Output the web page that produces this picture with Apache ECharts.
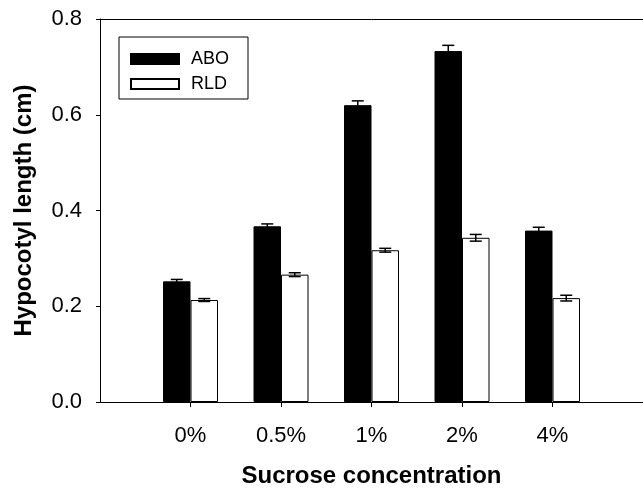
<!DOCTYPE html>
<html>
<head>
<meta charset="utf-8">
<script src="https://cdn.jsdelivr.net/npm/echarts@6/dist/echarts.min.js"></script>
<style>
html, body { margin: 0; padding: 0; background: #fff; }
#chart { width: 643px; height: 488px; }
</style>
</head>
<body>
<div id="chart"></div>
<script>
var categories = ['0%', '0.5%', '1%', '2%', '4%'];
var aboValues = [0.252, 0.367, 0.620, 0.733, 0.358];
var aboErrors = [0.004, 0.005, 0.009, 0.012, 0.007];
var rldValues = [0.213, 0.266, 0.317, 0.343, 0.217];
var rldErrors = [0.003, 0.004, 0.004, 0.007, 0.006];
var yTicks = [0, 0.2, 0.4, 0.6, 0.8];

// axis has an empty slot on each side so the groups sit on ticks 1..5
var axisData = [''].concat(categories, ['']);
function pad(arr) { return [null].concat(arr, [null]); }
function errData(vals, errs) {
    var out = [];
    for (var i = 0; i < vals.length; i++) {
        out.push([i + 1, vals[i], errs[i]]);
    }
    return out;
}

var barW = 27.5;
var font = '"Liberation Sans", Arial, sans-serif';

function errorBar(shift) {
    return function (params, api) {
        var idx = api.value(0);
        var v = api.value(1);
        var e = api.value(2);
        var hi = api.coord([idx, v + e]);
        var lo = api.coord([idx, v - e]);
        var x = hi[0] + shift;
        var cap = 6;
        var style = { stroke: '#000', lineWidth: 1.5 };
        return {
            type: 'group',
            children: [
                { type: 'line', shape: { x1: x, y1: hi[1], x2: x, y2: lo[1] }, style: style },
                { type: 'line', shape: { x1: x - cap, y1: hi[1], x2: x + cap, y2: hi[1] }, style: style },
                { type: 'line', shape: { x1: x - cap, y1: lo[1], x2: x + cap, y2: lo[1] }, style: style }
            ]
        };
    };
}

var myChart = echarts.init(document.getElementById('chart'));
var option = {
    animation: false,
    backgroundColor: '#fff',
    textStyle: { fontFamily: font, color: '#000' },
    grid: { left: 100, right: 0, top: 19, bottom: 86, outerBoundsMode: 'none', containLabel: false },
    legend: {
        data: ['ABO', 'RLD'],
        orient: 'vertical',
        left: 119,
        top: 37,
        icon: 'rect',
        itemWidth: 48,
        itemHeight: 10,
        itemGap: 7,
        padding: [13, 19, 6, 11],
        borderColor: '#000',
        borderWidth: 1,
        selectedMode: false,
        textStyle: { fontSize: 18, color: '#000', fontFamily: font, padding: [0, 0, 0, 7] }
    },
    xAxis: [
        {
            type: 'category',
            data: axisData,
            boundaryGap: false,
            name: 'Sucrose concentration',
            nameLocation: 'middle',
            nameGap: 62,
            nameTextStyle: { fontSize: 24, fontWeight: 'bold', color: '#000', fontFamily: font },
            axisLine: { lineStyle: { color: '#000', width: 1 } },
            axisTick: {
                length: 5,
                lineStyle: { color: '#000' },
                interval: function (index) { return index > 0 && index < axisData.length - 1; }
            },
            axisLabel: { fontSize: 22, color: '#000', margin: 23, interval: 0 },
            splitLine: { show: false }
        },
        {
            type: 'category',
            data: axisData,
            boundaryGap: false,
            position: 'top',
            axisLine: { lineStyle: { color: '#000', width: 1 } },
            axisTick: { show: false },
            axisLabel: { show: false },
            splitLine: { show: false }
        }
    ],
    yAxis: {
        type: 'value',
        min: yTicks[0],
        max: yTicks[yTicks.length - 1],
        interval: 0.2,
        name: 'Hypocotyl length (cm)',
        nameLocation: 'middle',
        nameGap: 64,
        nameTextStyle: { fontSize: 24, fontWeight: 'bold', color: '#000', fontFamily: font },
        axisLine: { show: true, lineStyle: { color: '#000', width: 1 } },
        axisTick: { show: true, length: 4, lineStyle: { color: '#000' } },
        axisLabel: {
            fontSize: 22, color: '#000', margin: 18,
            formatter: function (v) { return v.toFixed(1); }
        },
        splitLine: { show: false }
    },
    series: [
        {
            name: 'ABO',
            type: 'bar',
            data: pad(aboValues),
            barWidth: barW,
            barGap: '0%',
            itemStyle: { color: '#000', borderColor: '#000', borderWidth: 1 }
        },
        {
            name: 'RLD',
            type: 'bar',
            data: pad(rldValues),
            barWidth: barW,
            barGap: '0%',
            itemStyle: { color: '#fff', borderColor: '#000', borderWidth: 1 }
        },
        {
            name: 'ABO err',
            type: 'custom',
            data: errData(aboValues, aboErrors),
            renderItem: errorBar(-barW / 2),
            clip: false,
            z: 5
        },
        {
            name: 'RLD err',
            type: 'custom',
            data: errData(rldValues, rldErrors),
            renderItem: errorBar(barW / 2),
            clip: false,
            z: 5
        }
    ]
};
myChart.setOption(option);
</script>
</body>
</html>
